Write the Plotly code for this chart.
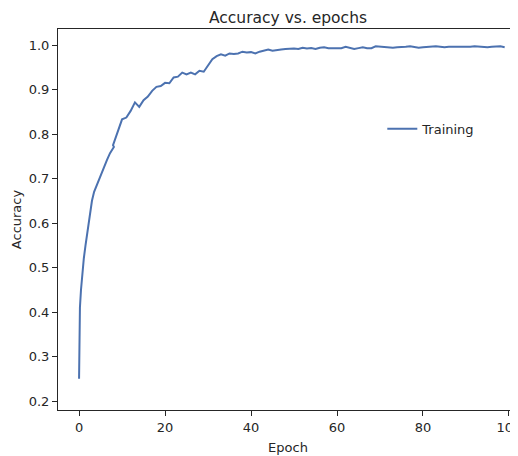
import plotly.graph_objects as go

epochs = [0, 0.07, 0.03, 0.2, 0.45, 0.75, 1.1, 1.5, 2.0, 2.5, 3.0, 3.5, 4.1, 5.0, 5.7, 6.5, 7.2, 7.7, 8.1, 7.9, 8.2,
          9.1, 10, 11, 12, 13, 14, 15, 16, 17, 18, 19, 20, 21, 22, 23, 24, 25, 26, 27, 28, 29,
          30, 31, 32, 33, 34, 35, 36, 37, 38, 39, 40, 41, 42, 43, 44, 45, 46, 47, 48, 49,
          50, 51, 52, 53, 54, 55, 56, 57, 58, 59, 60, 61, 62, 63, 64, 65, 66, 67, 68, 69,
          70, 71, 72, 73, 74, 75, 76, 77, 78, 79, 80, 81, 82, 83, 84, 85, 86, 87, 88, 89,
          90, 91, 92, 93, 94, 95, 96, 97, 98, 99]
accuracy = [0.25, 0.30, 0.37, 0.41, 0.45, 0.49, 0.52, 0.55, 0.585, 0.625, 0.65, 0.67, 0.685, 0.705, 0.722, 0.742, 0.757, 0.766, 0.771, 0.775, 0.783,
            0.809, 0.833, 0.837, 0.852, 0.871, 0.861, 0.876, 0.884, 0.897, 0.906, 0.908, 0.915, 0.914, 0.927, 0.929, 0.938, 0.934, 0.938, 0.934, 0.942, 0.940,
            0.955, 0.968, 0.975, 0.979, 0.976, 0.981, 0.980, 0.981, 0.985, 0.983, 0.984, 0.981, 0.985, 0.987, 0.990, 0.987, 0.989, 0.990, 0.991, 0.992,
            0.992, 0.991, 0.994, 0.992, 0.993, 0.991, 0.994, 0.995, 0.993, 0.993, 0.993, 0.993, 0.996, 0.994, 0.991, 0.993, 0.995, 0.993, 0.993, 0.997,
            0.996, 0.995, 0.995, 0.994, 0.995, 0.995, 0.996, 0.997, 0.995, 0.994, 0.995, 0.996, 0.996, 0.997, 0.996, 0.995, 0.996, 0.996, 0.996, 0.995,
            0.996, 0.996, 0.997, 0.996, 0.995, 0.995, 0.996, 0.997, 0.997, 0.995]

x_ticks = [0, 20, 40, 60, 80, 100]
y_ticks = [0.2, 0.3, 0.4, 0.5, 0.6, 0.7, 0.8, 0.9, 1.0]

font = "DejaVu Sans"
axis_color = "#262626"

fig = go.Figure()
fig.add_trace(go.Scatter(x=epochs, y=accuracy, mode="lines", name="Training",
                         line=dict(color="#4C72B0", width=2)))

# page body has an 8px margin, so the figure is sized to fit the window exactly
fig.update_layout(
    template="none",
    width=510, height=448,
    margin=dict(l=50, r=0, t=21, b=46, pad=0),
    paper_bgcolor="white", plot_bgcolor="white",
    font=dict(family=font, size=13, color="#262626"),
    title=dict(text="Accuracy vs. epochs", x=0.5, xanchor="center", xref="paper",
               y=1 - 15 / 448, yref="container", yanchor="bottom",
               font=dict(family=font, size=15.5, color="#262626")),
    showlegend=True,
    legend=dict(x=0.705, y=0.738, xanchor="left", yanchor="middle",
                bgcolor="rgba(0,0,0,0)", borderwidth=0,
                font=dict(family=font, size=13, color="#262626")),
    xaxis=dict(range=[-4.9, 102.1], tickvals=x_ticks, ticktext=[str(v) for v in x_ticks],
               showgrid=False, zeroline=False, showline=True, mirror=True,
               linecolor=axis_color, linewidth=1, ticks="outside", ticklen=5,
               tickcolor=axis_color, tickwidth=1, automargin=False,
               ticklabeloverflow="allow",
               title=dict(text="Epoch", standoff=9, font=dict(family=font, size=13))),
    yaxis=dict(range=[0.1798, 1.036], tickvals=y_ticks, tickformat=".1f",
               showgrid=False, zeroline=False, showline=True, mirror=False,
               linecolor=axis_color, linewidth=1, ticks="outside", ticklen=5,
               tickcolor=axis_color, tickwidth=1, automargin=False,
               title=dict(text="Accuracy", standoff=4, font=dict(family=font, size=13))),
)

fig.write_html("out.html")
